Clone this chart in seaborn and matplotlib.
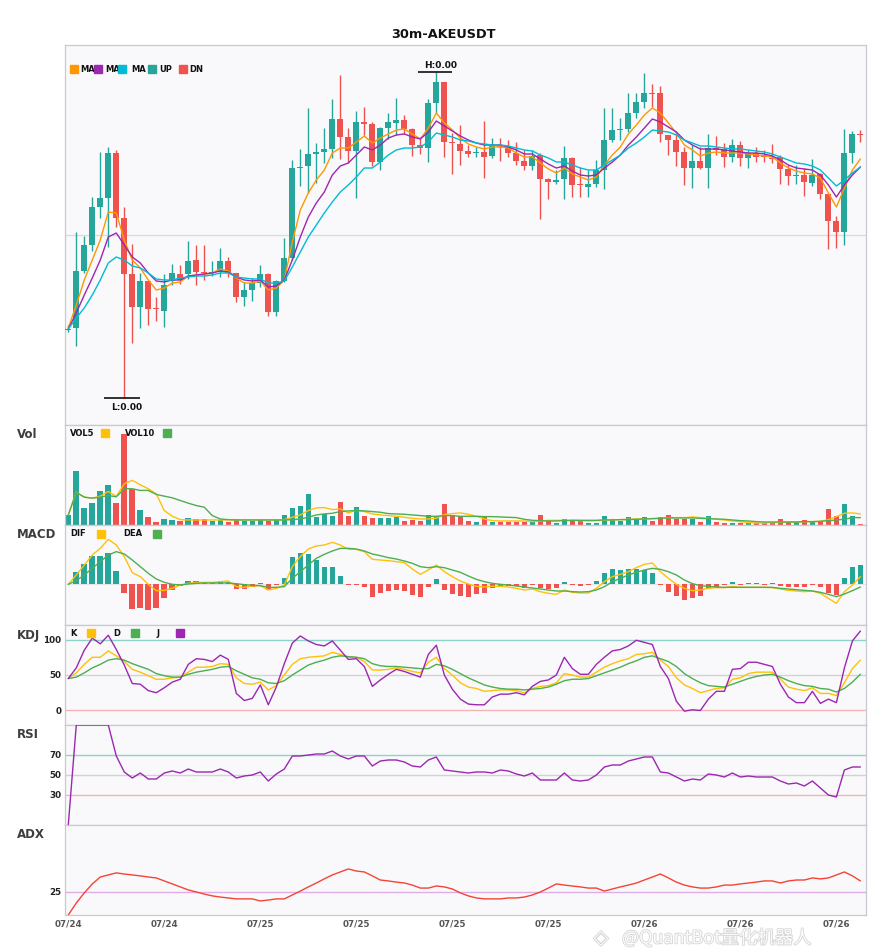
import numpy as np
import matplotlib
matplotlib.use("Agg")
import matplotlib.pyplot as plt
import matplotlib.patheffects as pe
from matplotlib.patches import Rectangle
import seaborn as sns

# ---- data (prices in units of 1e-5) ----
PRICE_UNIT = 1e-5
SYMBOL = "30m-AKEUSDT"

OPEN = [100, 102, 159, 185, 223, 232, 277, 212, 156, 123,
        149, 122, 119, 149, 156, 156, 170, 158.5, 157, 158,
        169, 157, 133, 140, 147, 156, 118, 149, 172, 262,
        264, 276, 278, 281, 311, 293, 279, 308, 306, 268,
        302, 307, 310, 301, 285, 282, 327, 348, 288, 286,
        279, 277, 278, 274, 284.5, 284, 277, 269, 264, 275,
        251, 248, 251, 272, 245.5, 243, 246, 260, 290, 300.5,
        301, 317, 328, 337, 337, 295, 290, 278, 262, 269,
        262, 282, 281, 273, 285, 272, 277, 275, 272, 273,
        261, 254.5, 255, 247, 256, 236, 209, 198, 277, 296]
HIGH = [105, 198, 194, 233, 278, 283, 280, 223, 186, 157,
        150, 133, 156, 166, 165, 189, 185, 185, 169, 182,
        173, 157, 148, 152, 165, 157, 150, 192, 270, 281,
        322, 287, 302, 331, 355, 302, 319, 323, 308, 303,
        317, 332, 315, 302, 293, 331, 358, 348, 297, 305,
        285, 283, 309, 292, 292, 290, 288, 280, 280, 277,
        252, 260, 284, 273, 263, 260, 270, 322, 322, 312,
        337, 337, 357, 346, 344, 295, 297, 283, 285, 283,
        296, 294, 287, 291, 289, 280, 283, 280, 286, 275,
        265, 265, 262, 271, 257, 236, 214, 301, 299, 300]
LOW = [98, 84, 157, 179, 212, 183, 203, 32, 87, 102,
       105, 109, 103, 145, 146, 151, 145, 150, 154, 153,
       153, 128, 124, 129, 143, 114, 114, 148, 170, 244,
       237, 247, 267, 272, 271, 267, 232, 295, 264, 260,
       291, 295, 296, 274, 276, 268, 317, 273, 256, 265,
       273, 273, 252, 272, 269, 273, 265, 260, 260, 211,
       231, 246, 231, 233, 233, 233, 243, 241, 288, 290,
       298, 312, 322, 323, 288, 275, 264, 245, 242, 261,
       242, 275, 263, 268, 264, 262, 268, 268, 267, 246,
       245, 246, 234, 244, 231, 181, 182, 185, 267, 288]
CLOSE = [101, 159, 185, 223, 232, 277, 212, 156, 123, 149,
         121, 121, 145, 157, 150, 169, 158, 157.5, 158, 169,
         157, 133, 140, 147, 156, 118, 149, 172, 262, 263,
         276, 278, 281, 311, 293, 279, 308, 306, 268, 302,
         308, 310, 301, 285, 282, 327, 348, 288, 287, 279,
         276, 277.5, 273, 284, 283, 277, 269, 264, 274, 251,
         248, 250, 272, 245, 245, 246, 260, 290, 300, 301,
         317, 328, 337, 336, 296, 290, 278, 262, 269, 262,
         282, 280, 273, 285, 272, 277, 273, 273, 271.5, 261,
         254, 255, 248, 255, 236, 209, 198, 277, 296, 295]

MA5 = [102, 125, 150, 170, 190, 218, 217, 190, 170, 162,
       150, 140, 142, 147, 148, 154, 155, 156, 157, 161,
       159, 152, 147, 147, 149, 140, 142, 150, 188, 220,
       237, 250, 260, 277, 282, 282, 288, 294, 287, 292,
       296, 300, 301, 296, 291, 302, 317, 307, 300, 292,
       286, 283, 281, 283, 283, 282, 277, 273, 273, 267,
       261, 257, 262, 256, 253, 250, 253, 265, 275, 283,
       296, 305, 315, 322, 317, 307, 297, 285, 280, 274,
       277, 278, 277, 277, 277, 276, 275, 274, 273, 267,
       262, 259, 257, 256, 252, 237, 223, 242, 260, 271]
MA10 = [101, 117, 135, 152, 170, 193, 197, 185, 173, 167,
        157, 149, 148, 150, 150, 154, 155, 156, 157, 159,
        158, 153, 150, 149, 150, 143, 144, 150, 170, 193,
        213, 227, 238, 255, 264, 267, 275, 283, 280, 285,
        292, 295, 296, 293, 291, 298, 309, 304, 299, 294,
        290, 287, 285, 285, 285, 283, 280, 276, 276, 271,
        266, 262, 264, 259, 255, 254, 255, 262, 268, 275,
        285, 293, 302, 311, 308, 303, 298, 290, 285, 281,
        281, 281, 280, 279, 278, 277, 277, 276, 274, 270,
        265, 262, 261, 260, 255, 245, 233, 245, 255, 263]
MA20 = [101, 112, 122, 135, 150, 167, 173, 170, 164, 162,
        157, 151, 150, 150, 152, 153, 154, 154, 155, 157,
        157, 153, 152, 151, 151, 147, 147, 149, 163, 178,
        193, 205, 217, 228, 238, 245, 253, 262, 262, 268,
        275, 280, 282, 282, 283, 288, 297, 295, 293, 290,
        289, 287, 286, 285, 285, 284, 282, 280, 279, 275,
        272, 268, 268, 265, 262, 260, 260, 265, 270, 275,
        282, 287, 293, 300, 299, 298, 295, 290, 287, 284,
        284, 283, 282, 281, 281, 280, 279, 278, 276, 273,
        270, 267, 266, 264, 260, 252, 244, 250, 257, 263]

VOLUME = [30, 160, 52, 67, 100, 118, 67, 270, 108, 46,
          25, 10, 19, 16, 13, 22, 19, 19, 11, 16,
          10, 19, 13, 11, 16, 13, 16, 31, 52, 58,
          91, 25, 34, 28, 70, 28, 55, 28, 22, 22,
          22, 25, 13, 16, 13, 31, 28, 64, 31, 28,
          13, 10, 23, 10, 10, 10, 10, 8, 8, 31,
          12, 7, 18, 12, 14, 7, 7, 28, 18, 12,
          25, 14, 25, 12, 25, 30, 18, 18, 18, 10,
          28, 10, 7, 7, 7, 5, 5, 5, 5, 18,
          8, 8, 15, 10, 12, 49, 28, 64, 28, 2]
VOL5 = [30, 98, 83, 80, 86, 100, 85, 123, 133, 120,
        108, 93, 43, 26, 16, 15, 15, 15, 15, 15,
        15, 15, 15, 15, 15, 15, 15, 16, 23, 30,
        43, 51, 52, 46, 48, 36, 44, 40, 33, 30,
        28, 26, 23, 20, 18, 18, 20, 31, 34, 36,
        32, 26, 18, 13, 12, 12, 12, 12, 10, 12,
        14, 14, 14, 14, 13, 12, 13, 14, 15, 16,
        17, 18, 18, 19, 20, 22, 22, 22, 24, 22,
        20, 17, 15, 12, 10, 7, 6, 6, 7, 8,
        9, 9, 10, 10, 11, 16, 25, 35, 36, 33]
VOL10 = [30, 97, 83, 80, 83, 88, 84, 108, 108, 103,
         103, 91, 86, 81, 73, 65, 58, 53, 28, 18,
         16, 15, 15, 15, 15, 15, 15, 15, 16, 18,
         23, 30, 33, 35, 40, 42, 43, 42, 40, 38,
         34, 33, 32, 30, 28, 26, 26, 28, 28, 26,
         26, 26, 25, 25, 24, 23, 22, 17, 14, 13,
         12, 12, 13, 14, 14, 14, 14, 15, 15, 16,
         16, 17, 18, 19, 20, 21, 21, 21, 21, 20,
         19, 18, 17, 15, 13, 12, 10, 9, 9, 9,
         9, 9, 10, 10, 11, 13, 15, 17, 22, 22]

MACD_HIST = [0, 37, 61, 85, 85, 94, 40, -25, -73, -70,
             -76, -70, -40, -16, -4, 10, 10, 6, 4, 10,
             6, -13, -13, -7, 4, -16, -2, 19, 82, 94,
             91, 73, 52, 52, 25, -2, -2, -7, -37, -25,
             -19, -16, -19, -31, -37, -7, 16, -16, -28, -34,
             -37, -28, -25, -10, -4, -4, -4, -10, -2, -10,
             -13, -10, 7, -2, -4, -2, 10, 34, 46, 43,
             46, 46, 43, 34, -2, -22, -34, -46, -40, -34,
             -13, -7, -2, 7, -2, 4, 4, -1, 4, -4,
             -7, -7, -7, -2, -7, -25, -31, 19, 52, 58]
DIF = [0, 28, 58, 88, 108, 135, 118, 83, 35, 23,
       0, -19, -18, -12, -2, 3, 6, 6, 6, 8,
       10, -7, -9, -5, -4, -17, -12, -2, 53, 83,
       106, 115, 118, 126, 118, 105, 105, 98, 75, 73,
       71, 68, 65, 46, 30, 43, 58, 38, 23, 10,
       1, -6, -8, -6, -6, -8, -12, -17, -14, -22,
       -27, -30, -17, -24, -26, -26, -12, 8, 23, 30,
       38, 50, 60, 64, 38, 18, 0, -12, -19, -17,
       -12, -10, -10, -6, -9, -9, -9, -9, -10, -14,
       -18, -20, -22, -20, -27, -42, -57, -22, -2, 23]
DEA = [0, 11, 28, 48, 68, 88, 98, 91, 73, 53,
       33, 16, 6, 0, -2, 1, 3, 4, 4, 4,
       4, 2, -1, -3, -4, -9, -9, -7, 18, 38,
       58, 78, 90, 100, 108, 108, 106, 100, 91, 86,
       80, 76, 70, 63, 53, 50, 53, 50, 43, 36,
       25, 15, 8, 3, 0, -2, -5, -8, -11, -14,
       -17, -20, -20, -22, -23, -22, -17, -7, 8, 18,
       28, 36, 43, 48, 45, 38, 28, 13, 2, -4,
       -6, -8, -9, -9, -9, -9, -9, -9, -9, -12,
       -14, -16, -18, -20, -24, -30, -37, -29, -19, -8]

K = [45, 53, 65, 75, 75, 84, 77, 69, 58, 54,
     49, 44, 44, 46, 47, 54, 61, 61, 62, 66,
     65, 46, 38, 37, 40, 29, 35, 50, 65, 73,
     75, 76, 77, 82, 79, 75, 75, 69, 57, 57,
     58, 60, 58, 55, 53, 68, 75, 59, 50, 39,
     33, 31, 27, 28, 29, 29, 28, 25, 31, 34,
     35, 39, 52, 50, 47, 47, 54, 61, 66, 70,
     73, 79, 80, 82, 71, 62, 46, 36, 31, 25,
     28, 31, 32, 44, 46, 52, 54, 54, 54, 44,
     33, 30, 28, 32, 24, 24, 21, 39, 59, 71]
D = [45, 47, 53, 60, 65, 71, 73, 71, 66, 62,
     58, 52, 49, 47, 47, 51, 54, 56, 58, 61,
     62, 56, 51, 46, 44, 39, 38, 42, 50, 57,
     64, 68, 71, 75, 77, 76, 75, 73, 66, 63,
     62, 62, 61, 60, 59, 59, 65, 63, 58, 52,
     46, 41, 36, 33, 31, 30, 30, 29, 30, 31,
     33, 37, 42, 44, 44, 45, 49, 53, 57, 61,
     66, 70, 75, 77, 73, 69, 62, 52, 45, 39,
     35, 34, 33, 37, 41, 45, 48, 50, 51, 47,
     42, 38, 35, 34, 31, 30, 26, 31, 40, 51]
J = [45, 60, 85, 102, 94, 106, 86, 64, 38, 37,
     28, 25, 32, 40, 44, 65, 73, 72, 69, 78,
     72, 24, 14, 17, 36, 8, 33, 66, 95, 105,
     98, 93, 91, 98, 85, 72, 73, 62, 34, 43,
     51, 58, 55, 51, 47, 79, 92, 50, 30, 16,
     9, 8, 8, 19, 23, 23, 25, 22, 34, 41,
     43, 50, 75, 59, 51, 51, 65, 75, 84, 86,
     91, 99, 96, 93, 62, 45, 13, -1, 1, 0,
     16, 27, 27, 58, 59, 68, 68, 65, 62, 37,
     19, 11, 11, 27, 10, 16, 11, 60, 98, 112]

RSI = [0, 100, 100, 100, 100, 100, 69, 53, 47, 52,
       46, 46, 52, 54, 52, 56, 53, 53, 53, 56,
       53, 47, 49, 50, 53, 44, 51, 56, 69, 69,
       70, 71, 71, 74, 69, 66, 69, 69, 59, 64,
       65, 65, 63, 59, 58, 65, 68, 55, 54, 53,
       52, 53, 53, 52, 55, 54, 51, 49, 52, 45,
       45, 45, 52, 45, 44, 45, 50, 58, 60, 60,
       64, 66, 68, 68, 53, 52, 48, 44, 46, 45,
       51, 50, 48, 52, 48, 49, 48, 48, 48, 44,
       41, 42, 39, 44, 37, 30, 28, 55, 58, 58]

ADX = [15.0, 20.2, 24.6, 28.5, 31.5, 32.4, 33.3, 32.8, 32.4, 32.0,
       31.5, 31.1, 29.8, 28.5, 27.2, 25.9, 25.0, 24.1, 23.3, 22.8,
       22.4, 22.0, 22.0, 22.0, 21.1, 21.5, 22.0, 22.0, 23.7, 25.4,
       27.2, 28.9, 30.7, 32.4, 33.7, 35.0, 34.1, 33.7, 32.0, 30.2,
       29.8, 29.3, 28.9, 28.0, 26.7, 26.7, 27.6, 27.2, 26.3, 24.6,
       23.3, 22.4, 22.0, 22.0, 22.0, 22.4, 22.4, 22.8, 23.7, 25.0,
       26.7, 28.5, 28.0, 27.6, 27.2, 26.7, 26.7, 25.4, 26.3, 27.2,
       28.0, 28.9, 30.2, 31.5, 32.8, 31.1, 29.3, 28.0, 27.2, 26.7,
       26.7, 27.2, 28.0, 28.0, 28.5, 28.9, 29.3, 29.8, 29.8, 28.9,
       29.8, 30.2, 30.2, 31.1, 30.7, 31.1, 32.4, 33.7, 32.0, 29.8]

TICK_POS = [0, 12, 24, 36, 48, 60, 72, 84, 96]
TICK_LABELS = ["07/24", "07/24", "07/25", "07/25", "07/25",
               "07/25", "07/26", "07/26", "07/26"]

# ---- style ----
UP = "#26a69a"
DN = "#ef5350"
BG = "#f9f9fb"
EDGE = "#c9c9d2"
sns.set_theme(style="white")
plt.rcParams["font.family"] = ["DejaVu Sans"]

W_PX, H_PX = 885, 950
fig = plt.figure(figsize=(W_PX / 100, H_PX / 100), dpi=100)
LEFT, RIGHT = 65, 866


def panel(top, bottom):
    ax = fig.add_axes([LEFT / W_PX, 1 - bottom / H_PX,
                       (RIGHT - LEFT) / W_PX, (bottom - top) / H_PX])
    ax.set_facecolor(BG)
    for s in ax.spines.values():
        s.set_color(EDGE)
        s.set_linewidth(0.9)
    ax.set_xlim(-0.41, 99.7)
    ax.set_xticks([])
    ax.set_yticks([])
    return ax


def legend_row(ax, top, bottom, y_px, items, covers=None):
    span_x = RIGHT - LEFT
    span_y = bottom - top
    yf = (bottom - y_px) / span_y
    for k, (tx, label, sx, color) in enumerate(items):
        ax.text((tx - LEFT) / span_x, yf, label, transform=ax.transAxes,
                fontsize=6, fontweight="bold", color="#111111",
                va="center", ha="left", zorder=5)
        if covers and covers[k] is not None:
            # the swatch sits on the tail of the previous label
            x0, x1 = covers[k]
            ax.add_patch(Rectangle(((x0 - LEFT) / span_x, yf - 6 / span_y),
                                   (x1 - x0) / span_x, 12 / span_y,
                                   transform=ax.transAxes, facecolor=BG,
                                   edgecolor="none", zorder=5.5, clip_on=False))
        ax.plot([(sx - LEFT) / span_x], [yf], marker="s", markersize=5.2,
                color=color, transform=ax.transAxes, clip_on=False, zorder=6,
                linestyle="none")


def side_label(y_px, text):
    fig.text(17 / W_PX, 1 - y_px / H_PX, text, fontsize=8.5, fontweight="bold",
             color="#3d3d3d", va="center", ha="left")


def y_ticks(ax, vals):
    ax.set_yticks(vals)
    ax.set_yticklabels([str(v) for v in vals], fontsize=6.3, fontweight="bold",
                       color="#222222")
    ax.tick_params(axis="y", length=0, pad=2.5)


idx = np.arange(len(CLOSE))
o = np.array(OPEN, float)
h = np.array(HIGH, float)
l = np.array(LOW, float)
c = np.array(CLOSE, float)
colors = np.where(c >= o, UP, DN)

# ---- price panel ----
ax_p = panel(45, 425)
ax_p.set_ylim(5, 385)
ax_p.axhline(195, color="#dcdce0", linewidth=1, zorder=0)
ax_p.vlines(idx, l, h, colors=colors, linewidth=1, zorder=2)
body_lo = np.minimum(o, c)
body_h = np.maximum(np.abs(c - o), 0.9)
ax_p.bar(idx, body_h, bottom=body_lo, width=0.75, color=colors, linewidth=0, zorder=3)
for series, col in [(MA5, "#ff9800"), (MA10, "#9c27b0"), (MA20, "#00bcd4")]:
    sns.lineplot(x=idx, y=series, ax=ax_p, color=col, linewidth=1.0, zorder=4)

hi_i = int(np.argmax(h))
lo_i = int(np.argmin(l))
ax_p.hlines(h[hi_i], hi_i - 2.3, hi_i + 2.0, color="#111111", linewidth=1.2, zorder=5)
ax_p.text(hi_i + 0.5, h[hi_i] + 6, f"H:{h[hi_i] * PRICE_UNIT:.2f}", fontsize=6.5,
          fontweight="bold", ha="center", va="center", color="#111111")
ax_p.hlines(l[lo_i], lo_i - 2.5, lo_i + 2.0, color="#111111", linewidth=1.2, zorder=5)
ax_p.text(lo_i + 0.3, l[lo_i] - 9, f"L:{l[lo_i] * PRICE_UNIT:.2f}", fontsize=6.5,
          fontweight="bold", ha="center", va="center", color="#111111")

legend_row(ax_p, 45, 425, 69,
           [(80.5, "MA5", 73.7, "#ff9800"),
            (105, "MA10", 98, "#9c27b0"),
            (131.5, "MA20", 122, "#00bcd4"),
            (159, "UP", 152, UP),
            (189, "DN", 182.7, DN)],
           covers=[None, (95.4, 104.6), (119.9, 131.1), (146.4, 158.6), None])

# ---- volume ----
ax_v = panel(425, 525)
ax_v.set_ylim(0, 298)
ax_v.bar(idx, VOLUME, width=0.7, color=colors, linewidth=0, zorder=2)
sns.lineplot(x=idx, y=VOL5, ax=ax_v, color="#ffc107", linewidth=1.0, zorder=3)
sns.lineplot(x=idx, y=VOL10, ax=ax_v, color="#4caf50", linewidth=1.0, zorder=3)
ax_v.set_yticks([])
legend_row(ax_v, 425, 525, 433.3, [(70, "VOL5", 105.3, "#ffc107"),
                                   (125, "VOL10", 167, "#4caf50")])
side_label(435, "Vol")

# ---- MACD ----
ax_m = panel(525, 625)
ax_m.set_ylim(-122, 178)
hist = np.array(MACD_HIST, float)
ax_m.axhline(0, color="#e6e6ea", linewidth=0.8, zorder=1)
ax_m.bar(idx, hist, width=0.7, color=np.where(hist >= 0, UP, DN), linewidth=0, zorder=2)
sns.lineplot(x=idx, y=DIF, ax=ax_m, color="#ffc107", linewidth=1.0, zorder=3)
sns.lineplot(x=idx, y=DEA, ax=ax_m, color="#4caf50", linewidth=1.0, zorder=3)
ax_m.set_yticks([])
legend_row(ax_m, 525, 625, 534, [(70, "DIF", 101, "#ffc107"),
                                 (123, "DEA", 157, "#4caf50")])
side_label(535, "MACD")

# ---- KDJ ----
ax_k = panel(625, 725)
ax_k.set_ylim(-20.5, 120.5)
ax_k.axhline(100, color="#8dd3c7", linewidth=1, zorder=1)
ax_k.axhline(50, color="#d2d2d6", linewidth=1, zorder=1)
ax_k.axhline(0, color="#f6b3b3", linewidth=1, zorder=1)
sns.lineplot(x=idx, y=K, ax=ax_k, color="#ffc107", linewidth=1.0, zorder=3)
sns.lineplot(x=idx, y=D, ax=ax_k, color="#4caf50", linewidth=1.0, zorder=3)
sns.lineplot(x=idx, y=J, ax=ax_k, color="#9c27b0", linewidth=1.0, zorder=3)
y_ticks(ax_k, [0, 50, 100])
legend_row(ax_k, 625, 725, 633.3, [(70.5, "K", 91, "#ffc107"),
                                   (113, "D", 134.5, "#4caf50"),
                                   (156.5, "J", 179.5, "#9c27b0")])
side_label(635, "KDJ")

# ---- RSI ----
ax_r = panel(725, 825)
ax_r.set_ylim(0, 100)
ax_r.axhline(70, color="#8dd3c7", linewidth=1, zorder=1)
ax_r.axhline(50, color="#d2d2d6", linewidth=1, zorder=1)
ax_r.axhline(30, color="#f6b3b3", linewidth=1, zorder=1)
sns.lineplot(x=idx, y=RSI, ax=ax_r, color="#9c27b0", linewidth=1.0, zorder=3)
y_ticks(ax_r, [30, 50, 70])
side_label(735, "RSI")

# ---- ADX ----
ax_a = panel(825, 915)
ax_a.set_ylim(15, 54.1)
ax_a.axhline(25, color="#dfaee6", linewidth=1, zorder=1)
sns.lineplot(x=idx, y=ADX, ax=ax_a, color="#f44336", linewidth=1.0, zorder=3)
y_ticks(ax_a, [25])
ax_a.set_xticks(TICK_POS)
ax_a.set_xticklabels(TICK_LABELS, fontsize=6.3, fontweight="bold", color="#555555")
ax_a.tick_params(axis="x", length=0, pad=3)
side_label(835, "ADX")

for ax in (ax_p, ax_v, ax_m, ax_k, ax_r, ax_a):
    ax.set_xlabel("")
    ax.set_ylabel("")

fig.text(443 / W_PX, 1 - 34 / H_PX, SYMBOL, fontsize=9.3, fontweight="bold",
         ha="center", va="center", color="#111111")

# watermark, kept just under the date labels
wm = fig.text(622 / W_PX, 1 - 938 / H_PX, "@QuantBot量化机器人", fontsize=13,
              family=["Noto Sans CJK SC", "DejaVu Sans"], color="white",
              ha="left", va="center", alpha=0.9)
wm.set_path_effects([pe.withStroke(linewidth=1.1, foreground="#cfcfcf")])
logo = fig.text(601 / W_PX, 1 - 938 / H_PX, "◈", fontsize=14, color="white",
                ha="center", va="center")
logo.set_path_effects([pe.withStroke(linewidth=1.1, foreground="#cfcfcf")])

fig.savefig("out.png", dpi=100, facecolor="white")
